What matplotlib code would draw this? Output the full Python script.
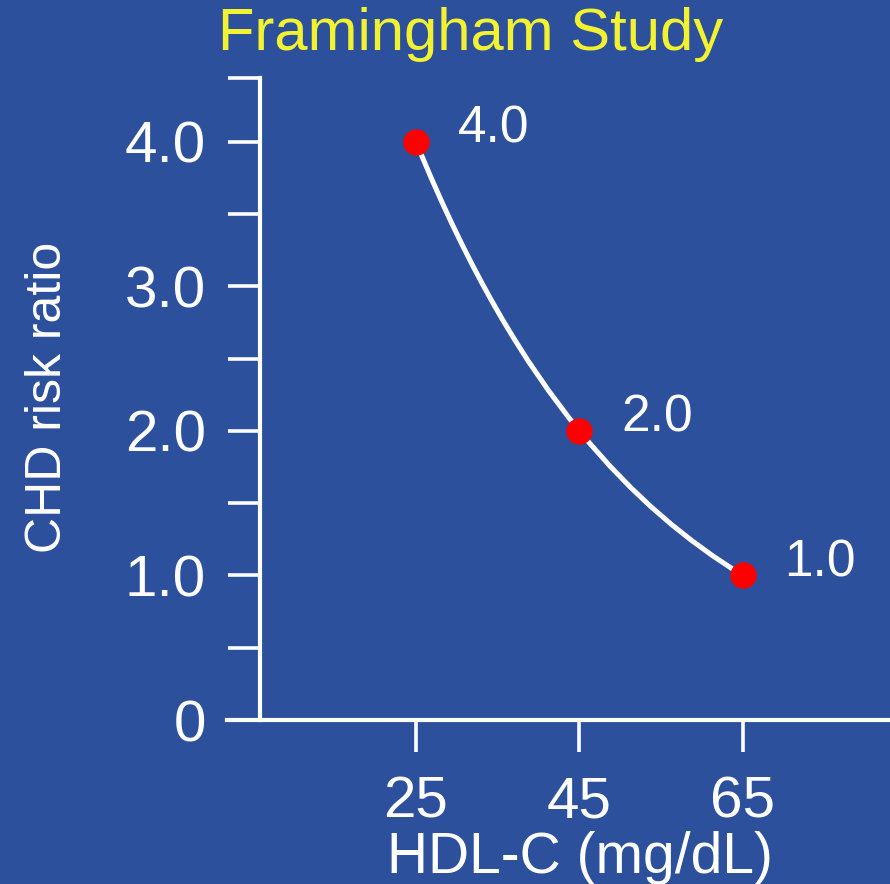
import matplotlib
matplotlib.use('Agg')
import matplotlib.pyplot as plt
from matplotlib.path import Path
from matplotlib.patches import PathPatch
import numpy as np

# Data
hdl = [25, 45, 65]
risk = [4.0, 2.0, 1.0]
risk_labels = ['4.0', '2.0', '1.0']
y_major = [0, 1, 2, 3, 4]
y_major_labels = ['0', '1.0', '2.0', '3.0', '4.0']
y_minor = [0.5, 1.5, 2.5, 3.5, 4.44]

bg = '#2c509c'
fg = 'white'
plt.rcParams['font.family'] = ['Liberation Sans', 'DejaVu Sans']

fig = plt.figure(figsize=(8.9, 8.84), dpi=100, facecolor=bg)
ax = fig.add_axes([0.255, 0.1855, 0.745, 0.7263])
ax.set_facecolor(bg)

# Smooth curve through the points: bezier segments, tangents taken in log space
xs = np.array(hdl, dtype=float)
ys = np.array(risk, dtype=float)
slopes = ys * np.gradient(np.log(ys), xs)
verts = [(xs[0], ys[0])]
codes = [Path.MOVETO]
for i in range(len(xs) - 1):
    h = (xs[i + 1] - xs[i]) / 3
    verts += [(xs[i] + h, ys[i] + slopes[i] * h),
              (xs[i + 1] - h, ys[i + 1] - slopes[i + 1] * h),
              (xs[i + 1], ys[i + 1])]
    codes += [Path.CURVE4] * 3
ax.add_patch(PathPatch(Path(verts, codes), facecolor='none', edgecolor=fg,
                       linewidth=3.6, zorder=2))

ax.plot(hdl, risk, linestyle='none', marker='o', markersize=18,
        color='#ff0000', zorder=3)

for x, y, lab in zip(hdl, risk, risk_labels):
    ax.annotate(lab, (x, y), xytext=(30, 9), textcoords='offset points',
                ha='left', va='center', color=fg, fontsize=37)

# Axes
ax.set_xlim(1.88, 83)
ax.set_ylim(0, 4.44)
for s in ['top', 'right']:
    ax.spines[s].set_visible(False)
ax.spines['left'].set_position(('data', 5.92))
for s in ['left', 'bottom']:
    ax.spines[s].set_color(fg)
    ax.spines[s].set_linewidth(3)

ax.set_xticks(hdl)
ax.set_xticklabels([str(v) for v in hdl])
ax.set_yticks(y_major)
ax.set_yticklabels(y_major_labels)
ax.set_yticks(y_minor, minor=True)
ax.tick_params(axis='both', which='both', direction='out', length=23, width=2.6,
               color=fg, labelcolor=fg, labelsize=42)
ax.tick_params(axis='y', which='both', pad=16)
ax.tick_params(axis='x', pad=17)

ax.set_xlabel('HDL-C (mg/dL)', color=fg, fontsize=41)
ax.xaxis.set_label_coords(0.532, -0.215)
ax.xaxis.label.set_va('center')
ax.set_ylabel('CHD risk ratio', color=fg, fontsize=36)
ax.yaxis.set_label_coords(-0.27, 0.503)
ax.yaxis.label.set_va('center')

fig.text(471 / 890, 1 - 35 / 884, 'Framingham Study', color='#f2f230',
         fontsize=43, ha='center', va='center')

fig.savefig('out.png', dpi=100, facecolor=bg)
